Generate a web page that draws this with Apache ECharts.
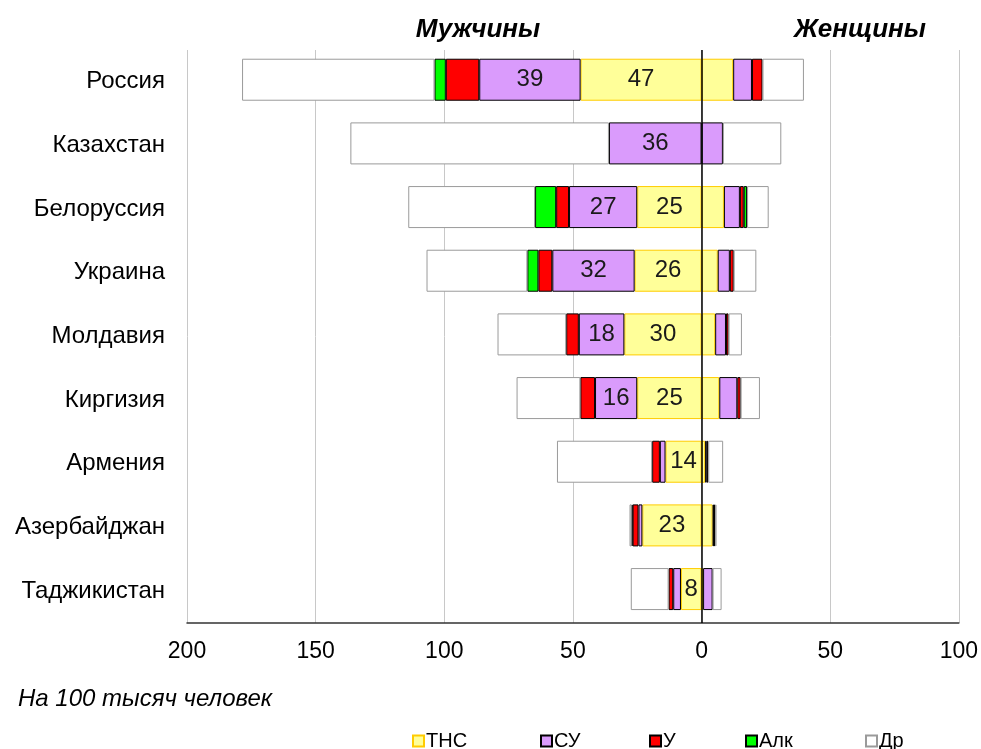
<!DOCTYPE html>
<html>
<head>
<meta charset="utf-8">
<script src="https://cdn.jsdelivr.net/npm/echarts@6/dist/echarts.min.js"></script>
<style>html,body{margin:0;padding:0;background:#fff}#c{width:981px;height:749px}</style>
</head>
<body>
<div id="c"></div>
<script>
const categories = ['Россия','Казахстан','Белоруссия','Украина','Молдавия','Киргизия','Армения','Азербайджан','Таджикистан'];
const seriesNames = ['ТНС','СУ','У','Алк','Др'];
const xTicks = [-200,-150,-100,-50,0,50,100];

// Men (values per 100 000, plotted to the left)
const menTNS = [47, 0, 25, 26, 30, 25, 14, 23, 8];
const menSU  = [39.4, 36, 26.5, 32, 17.7, 16.4, 2.2, 1.5, 3];
const menU   = [13, 0, 5, 5.4, 4.9, 5.7, 3.0, 2.3, 1.8];
const menAlk = [4.4, 0, 8.2, 4.3, 0, 0, 0, 0.4, 0];
const menDr  = [74.8, 100.5, 49.3, 39.2, 26.7, 24.8, 37, 0.8, 14.7];

// Women (plotted to the right)
const womenTNS = [12.3, 0, 8.7, 6.3, 5.3, 6.9, 1.4, 4.3, 0.6];
const womenSU  = [7.3, 8.3, 6.2, 4.7, 4.2, 7.0, 0.6, 0.5, 3.7];
const womenU   = [4.1, 0, 1.5, 1.5, 1.0, 1.3, 0.6, 0.5, 0];
const womenAlk = [0, 0, 1.3, 0, 0, 0, 0, 0, 0];
const womenDr  = [16.1, 22.7, 8.4, 8.8, 5.2, 7.5, 5.8, 0.5, 3.5];

const menData = [menTNS, menSU, menU, menAlk, menDr];
const womenData = [womenTNS, womenSU, womenU, womenAlk, womenDr];

const fills = ['#FFFF99','#DA9BFC','#FF0000','#00FF00','#FFFFFF'];
const borders = ['#FFCC00','#000000','#000000','#000000','#9A9A9A'];

const FONT = "'Liberation Sans', Arial, sans-serif";

const series = [];
seriesNames.forEach((name, i) => {
  const labelled = i < 2;
  series.push({
    name: name, type: 'bar', stack: 'all', barWidth: 42,
    data: menData[i].map(v => v === 0 ? '-' : -v),
    itemStyle: { color: fills[i], borderColor: borders[i], borderWidth: 1 },
    label: {
      show: labelled, position: 'inside', fontSize: 24, color: '#1a1a1a', fontFamily: FONT,
      formatter: p => { const v = Math.abs(Number(p.value)); return (isFinite(v) && v >= 5) ? String(Math.round(v)) : ''; }
    }
  });
});
seriesNames.forEach((name, i) => {
  series.push({
    name: name, type: 'bar', stack: 'all', barWidth: 42,
    data: womenData[i].map(v => v === 0 ? '-' : v),
    itemStyle: { color: fills[i], borderColor: borders[i], borderWidth: 1 }
  });
});
series.push({
  name: 'zero', type: 'bar', data: [], z: 10,
  markLine: { silent: true, symbol: 'none', animation: false,
    lineStyle: { color: '#000', width: 1.5, type: 'solid' }, label: { show: false },
    data: [{ xAxis: 0 }] }
});

const legendLefts = [412, 540, 649, 745, 865];
const legends = seriesNames.map((n, i) => ({
  data: [n], left: legendLefts[i], top: 731, padding: 0,
  icon: 'rect', itemWidth: 11, itemHeight: 11, itemGap: 0,
  textStyle: { fontSize: 20, color: '#000', fontFamily: FONT, padding: [0,0,0,-3] },
  selectedMode: false
}));

const chart = echarts.init(document.getElementById('c'));
chart.setOption({
  animation: false,
  textStyle: { fontFamily: FONT },
  title: [
    { text: 'Мужчины', left: 478, top: 17, textAlign: 'center', padding: 0,
      textStyle: { fontSize: 26, fontWeight: 'bold', fontStyle: 'italic', color: '#000', fontFamily: FONT } },
    { text: 'Женщины', left: 860, top: 17, textAlign: 'center', padding: 0,
      textStyle: { fontSize: 26, fontWeight: 'bold', fontStyle: 'italic', color: '#000', fontFamily: FONT } },
    { text: 'На 100 тысяч человек', left: 18, top: 687, padding: 0,
      textStyle: { fontSize: 24, fontWeight: 'normal', fontStyle: 'italic', color: '#000', fontFamily: FONT } }
  ],
  legend: legends,
  grid: { left: 187, right: 21, top: 50, bottom: 126, containLabel: false },
  xAxis: {
    type: 'value', min: xTicks[0], max: xTicks[xTicks.length - 1], interval: 50,
    axisLine: { show: true, lineStyle: { color: '#333', width: 1.5 } },
    axisTick: { show: false },
    splitLine: { show: true, lineStyle: { color: '#C8C8C8', width: 1 } },
    axisLabel: { fontSize: 23, color: '#000', margin: 17, formatter: v => String(Math.abs(v)) }
  },
  yAxis: {
    type: 'category', inverse: true, data: categories,
    axisLine: { show: false }, axisTick: { show: false }, splitLine: { show: false },
    axisLabel: { fontSize: 24, color: '#000', margin: 22 }
  },
  series: series
});
</script>
</body>
</html>
